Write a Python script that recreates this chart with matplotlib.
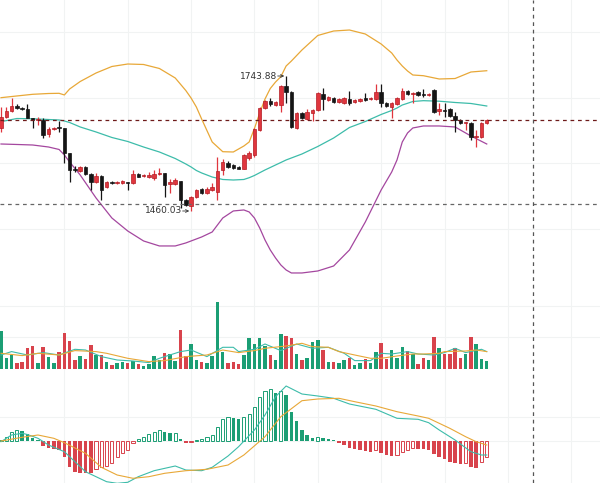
import matplotlib
matplotlib.use('Agg')
import matplotlib.pyplot as plt
import numpy as np

# candles: open, high, low, close
opens = [1634.6, 1657.7, 1670.3, 1680.8, 1676.6, 1674.5, 1655.6, 1651.4, 1651.4, 1622.0,
         1632.5, 1636.7, 1634.6, 1582.0, 1548.4, 1544.2, 1552.6, 1537.9, 1521.0, 1533.6,
         1510.5, 1521.0, 1518.9, 1518.9, 1521.0, 1518.9, 1537.9, 1533.6, 1531.5, 1529.4,
         1537.9, 1540.0, 1516.8, 1516.8, 1523.1, 1483.2, 1470.6, 1489.5, 1506.3, 1497.9,
         1504.2, 1500.0, 1546.3, 1561.0, 1556.8, 1552.6, 1548.4, 1571.5, 1577.8, 1630.4,
         1676.6, 1691.3, 1682.9, 1682.9, 1722.9, 1710.3, 1634.6, 1666.1, 1653.5, 1666.1,
         1672.4, 1706.1, 1693.4, 1697.6, 1689.2, 1687.1, 1695.5, 1689.2, 1691.3, 1697.6,
         1695.5, 1695.5, 1710.3, 1687.1, 1678.7, 1685.0, 1695.5, 1712.4, 1706.1, 1710.3,
         1706.1, 1704.0, 1714.5, 1670.3, 1672.4, 1674.5, 1659.8, 1651.4, 1645.1, 1645.1,
         1615.6, 1615.6, 1645.1]
highs = [1678.7, 1678.7, 1697.6, 1685.0, 1678.7, 1685.0, 1655.6, 1657.7, 1655.6, 1636.7,
         1636.7, 1649.3, 1634.6, 1582.0, 1554.7, 1554.7, 1554.7, 1540.0, 1540.0, 1535.7,
         1523.1, 1523.1, 1523.1, 1525.2, 1521.0, 1546.3, 1540.0, 1537.9, 1542.1, 1546.3,
         1550.5, 1540.0, 1527.3, 1529.4, 1523.1, 1485.3, 1491.6, 1506.3, 1508.4, 1510.5,
         1518.9, 1573.6, 1569.4, 1565.2, 1558.9, 1554.7, 1579.9, 1586.2, 1634.6, 1678.7,
         1693.4, 1697.6, 1691.3, 1725.0, 1743.88, 1712.4, 1668.2, 1668.2, 1674.5, 1674.5,
         1710.3, 1718.7, 1701.9, 1699.8, 1697.6, 1699.8, 1712.4, 1695.5, 1697.6, 1708.2,
         1699.8, 1727.1, 1727.1, 1689.2, 1689.2, 1699.8, 1718.7, 1714.5, 1710.3, 1712.4,
         1716.6, 1708.2, 1716.6, 1687.1, 1687.1, 1676.6, 1668.2, 1653.5, 1647.2, 1647.2,
         1630.4, 1647.2, 1653.5]
lows = [1626.2, 1655.6, 1668.2, 1674.5, 1672.4, 1655.6, 1634.6, 1640.9, 1613.5, 1615.6,
        1630.4, 1626.2, 1561.0, 1521.0, 1542.1, 1542.1, 1535.7, 1504.2, 1518.9, 1483.2,
        1508.4, 1516.8, 1516.8, 1516.8, 1504.2, 1516.8, 1531.5, 1531.5, 1529.4, 1525.2,
        1535.7, 1489.5, 1497.9, 1514.7, 1466.4, 1470.6, 1460.03, 1487.4, 1495.8, 1495.8,
        1502.1, 1483.2, 1535.7, 1550.5, 1548.4, 1548.4, 1548.4, 1567.3, 1573.6, 1628.3,
        1674.5, 1680.8, 1680.8, 1668.2, 1687.1, 1634.6, 1632.5, 1653.5, 1651.4, 1649.3,
        1670.3, 1672.4, 1691.3, 1687.1, 1687.1, 1685.0, 1682.9, 1687.1, 1689.2, 1691.3,
        1693.4, 1693.4, 1678.7, 1678.7, 1655.6, 1682.9, 1693.4, 1704.0, 1687.1, 1701.9,
        1699.8, 1701.9, 1666.1, 1661.9, 1657.7, 1657.7, 1626.2, 1643.0, 1630.4, 1609.3,
        1594.6, 1613.5, 1643.0]
closes = [1657.7, 1670.3, 1680.8, 1676.6, 1674.5, 1655.6, 1651.4, 1653.5, 1619.9, 1632.5,
          1634.6, 1634.6, 1582.0, 1546.3, 1546.3, 1552.6, 1537.9, 1521.0, 1533.6, 1504.2,
          1521.0, 1518.9, 1521.0, 1523.1, 1518.9, 1537.9, 1531.5, 1535.7, 1535.7, 1537.9,
          1540.0, 1514.7, 1521.0, 1525.2, 1483.2, 1472.7, 1489.5, 1504.2, 1497.9, 1506.3,
          1510.5, 1544.2, 1563.1, 1552.6, 1550.5, 1548.4, 1577.8, 1582.0, 1632.5, 1676.6,
          1691.3, 1685.0, 1689.2, 1722.9, 1710.3, 1636.7, 1666.1, 1655.6, 1668.2, 1672.4,
          1708.2, 1695.5, 1699.8, 1689.2, 1695.5, 1697.6, 1687.1, 1693.4, 1695.5, 1693.4,
          1697.6, 1710.3, 1687.1, 1680.8, 1687.1, 1697.6, 1712.4, 1706.1, 1708.2, 1704.0,
          1704.0, 1706.1, 1668.2, 1674.5, 1670.3, 1659.8, 1651.4, 1645.1, 1647.2, 1615.6,
          1617.8, 1645.1, 1651.4]

# bollinger bands (candle index, price)
boll_idx = [0, 3, 6, 9, 11, 12, 13, 15, 18, 21, 24, 27, 30, 33, 35, 36, 37, 38, 40, 42,
            44, 46, 47, 48, 49, 50, 51, 52, 53, 54, 55, 57, 60, 63, 66, 69, 72, 74, 75, 76,
            77, 78, 80, 83, 86, 89, 92]
boll_up = [1698.3, 1701.9, 1705.4, 1707.1, 1707.5, 1704.0, 1716.6, 1732.3, 1750.2, 1763.9,
           1769.1, 1768.1, 1759.7, 1739.7, 1713.4, 1697.6, 1678.7, 1653.5, 1605.1, 1584.7,
           1584.1, 1596.7, 1605.1, 1633.5, 1666.1, 1695.5, 1717.6, 1731.3, 1742.4, 1764.9,
           1775.4, 1798.6, 1829.1, 1838.5, 1840.6, 1832.2, 1811.2, 1792.3, 1777.5, 1764.9,
           1754.4, 1746.0, 1744.5, 1737.6, 1738.6, 1752.3, 1755.0]
boll_mid = [1647.8, 1654.5, 1653.9, 1652.4, 1651.4, 1649.3, 1646.1, 1636.7, 1626.2, 1614.6,
            1606.2, 1594.6, 1584.1, 1570.4, 1558.9, 1552.6, 1545.2, 1540.0, 1531.5, 1526.3,
            1525.2, 1526.3, 1530.0, 1534.7, 1540.5, 1546.3, 1551.5, 1556.8, 1562.0, 1567.3,
            1571.5, 1579.9, 1595.7, 1613.5, 1635.6, 1648.2, 1663.0, 1671.4, 1676.6, 1682.9,
            1686.5, 1690.3, 1692.0, 1690.9, 1688.2, 1686.1, 1680.8]
boll_dn = [1600.9, 1599.9, 1598.8, 1594.6, 1589.4, 1577.8, 1563.1, 1535.7, 1487.4, 1445.3,
           1418.0, 1397.0, 1386.5, 1386.5, 1392.8, 1397.0, 1401.2, 1405.4, 1415.9, 1445.3,
           1460.1, 1462.2, 1458.0, 1445.3, 1424.3, 1399.1, 1378.1, 1361.2, 1346.5, 1336.0,
           1329.7, 1329.7, 1333.9, 1344.4, 1378.1, 1436.9, 1504.2, 1542.1, 1567.3, 1605.1,
           1624.1, 1634.6, 1638.8, 1638.8, 1636.7, 1617.8, 1600.9]

volume = [38.7, 11, 14.3, 6.7, 7.7, 21, 23.3, 6.7, 22.7, 12, 6.7, 17.7, 36.7, 28.7, 9.3,
          13.3, 10.3, 24.3, 14.3, 14.3, 7.7, 4.3, 6, 7.7, 6, 8.3, 5.3, 3.3, 5.3, 13.3,
          9.3, 16.7, 15, 8.7, 39.3, 13.7, 25, 9.3, 7.7, 6, 13.3, 67, 17.7, 6.7, 7.3,
          5.3, 14.3, 31, 25.3, 31, 23.3, 14.3, 9.3, 35.3, 33.3, 31, 15.3, 9.3, 11.7, 27.7,
          29.3, 19.3, 7.7, 7.7, 6.7, 9.3, 11, 4.3, 6.7, 10, 6, 17, 26.7, 10.3, 19.3,
          11, 22.7, 18.3, 15, 5.3, 11.7, 9.3, 32.7, 21.7, 15, 15, 21, 11, 15, 32.7,
          25.3, 10, 8.7]
vol_ma_a_idx = [0, 2, 5, 8, 11, 14, 16, 19, 22, 25, 28, 30, 34, 36, 39, 42, 44, 45, 48, 50,
                53, 56, 59, 62, 65, 67, 70, 72, 74, 77, 79, 82, 84, 86, 88, 91, 92]
vol_ma_a = [14.3, 17.7, 14.3, 16.7, 14.3, 20, 19.3, 12.7, 9.3, 8.3, 6.7, 11, 17.7, 19.3,
            12.7, 22, 22, 17.7, 20, 25.3, 18.7, 25.3, 21, 22, 16, 8.7, 8.7, 16, 15.3, 17.7,
            15.3, 14.3, 16.7, 21, 16.7, 20, 17.7]
vol_ma_b_idx = [0, 4, 7, 11, 14, 18, 20, 24, 28, 31, 35, 39, 42, 45, 48, 50, 54, 57, 59, 62,
                64, 67, 70, 72, 75, 78, 80, 83, 84, 88, 90, 92]
vol_ma_b = [16, 13.7, 16, 14.3, 18.7, 17.7, 16, 11, 7.7, 8.7, 12.7, 14.3, 19.3, 16.7, 18.7,
            21, 23.3, 26, 22.7, 22, 17.7, 14.3, 11, 11, 13.3, 15.3, 15.3, 16, 17.7, 18.3,
            19.3, 17.7]

macd_hist = [1, 3.7, 8.7, 10.7, 10.3, 7, 2.7, 1, -5, -7.3, -8.3, -9, -16.3, -26.3, -30.7,
             -31.7, -31.8, -32.3, -28.3, -26.3, -25, -21.7, -16.3, -11.7, -9, -1.7, 1.7, 4.3,
             7, 9, 11, 9.3, 7.7, 7.7, 1.7, -1.7, -1.3, 1, 1.7, 3.7, 5.7, 14.3, 21.7, 23.7,
             22.7, 21.7, 24.3, 26.7, 34.3, 43.7, 50.3, 51.7, 48.3, 50, 46, 29.3, 20.3, 11, 6,
             2.7, 4.3, 2.7, 1.7, 1, -1.7, -4, -7.3, -8.3, -9, -9.7, -10.7, -9, -11.7, -14,
             -15, -14, -10.7, -9, -7.3, -8, -8.3, -8.7, -13, -16.3, -18.3, -20.7, -22.3, -23,
             -22.3, -26.3, -27.3, -20.7, -15.7]
dif_idx = [0, 2, 4, 5, 7, 9, 12, 14, 16, 18, 20, 22, 24, 26, 29, 33, 35, 38, 40, 43, 45, 48,
           50, 52, 54, 57, 60, 63, 66, 71, 75, 79, 81, 83, 86, 89, 91, 92]
dif = [-0.7, 6, 7.7, 6.5, 2.7, -4, -10.7, -20.7, -30.7, -35.7, -40.7, -42.3, -41.3, -35.7,
       -29.7, -25, -29, -29.7, -26.3, -15, -5.7, 11, 26, 44.3, 55, 47, 45, 42.7, 37, 31.7,
       22.7, 21.7, 18.3, 11, 1, -10.7, -14, -14]
dea_idx = [0, 4, 7, 10, 12, 16, 19, 22, 25, 28, 31, 35, 39, 43, 46, 50, 53, 57, 60, 64, 67,
           71, 75, 79, 81, 85, 88, 90, 92]
dea = [0, 3.7, 6, 2.7, -1.7, -12.3, -26.3, -34, -37.3, -35.7, -32.3, -29.7, -28.3, -24, -14,
       4.3, 24.3, 40.3, 42, 42.7, 39.3, 35, 29.3, 25, 22.7, 12.7, 4.3, -0.7, -4]

RED, BLACK = '#e0363e', '#151515'
V_GREEN, V_RED = '#1b9e74', '#d8434c'
GOLD, TEAL, PURPLE = '#e8a838', '#3dbcaa', '#a4479f'
GRID = '#f1f3f3'

W, H = 600, 483
fig = plt.figure(figsize=(6, 4.83), dpi=100)

def pane(top, bottom):
    ax = fig.add_axes([0, 1 - bottom / H, 1, (bottom - top) / H])
    ax.set_xlim(-0.19, 113.45)
    for s in ax.spines.values():
        s.set_visible(False)
    ax.tick_params(left=False, bottom=False, labelleft=False, labelbottom=False)
    for gx in range(12, 112, 12):
        ax.axvline(gx, color=GRID, lw=0.8, zorder=0)
    return ax

n = len(opens)
x = np.arange(n)
o, h, l, c = map(np.array, (opens, highs, lows, closes))
up = c >= o

# main pane
ax = pane(0, 289)
ax.set_ylim(1296.0, 1903.7)
for gy in (1836.4, 1697.6, 1561.0, 1422.2):
    ax.axhline(gy, color=GRID, lw=0.8, zorder=0)
ax.plot(boll_idx, boll_up, color=GOLD, lw=0.9, zorder=2)
ax.plot(boll_idx, boll_mid, color=TEAL, lw=0.9, zorder=2)
ax.plot(boll_idx, boll_dn, color=PURPLE, lw=0.9, zorder=2)
cols = np.where(up, RED, BLACK)
ax.vlines(x, l, h, colors=cols, lw=0.9, zorder=3)
body_lo = np.minimum(o, c)
body_h = np.maximum(np.abs(c - o), 1.6)
ax.bar(x, body_h, bottom=body_lo, width=0.66, color=cols, edgecolor=np.where(up, '#b21d25', BLACK),
       lw=0.5, zorder=4)
ax.axhline(closes[-1], color='#6e1a1a', lw=0.9, ls=(0, (3, 3)), zorder=5)
ax.axhline(1474.8, color='#666666', lw=0.9, ls=(0, (3, 3)), zorder=5)

# max / min marks
for idx, val in ((int(np.argmax(h)), h.max()), (int(np.argmin(l)), l.min())):
    ax.annotate('', xy=(idx - 0.35, val), xytext=(idx - 1.6, val),
                arrowprops=dict(arrowstyle='->', lw=0.6, color='#333333', shrinkA=0, shrinkB=0,
                                mutation_scale=5))
    ax.text(idx - 1.75, val, f'{val:.2f}', ha='right', va='center', fontsize=6.5, color='#333333')

# volume pane
axv = pane(289, 372)
axv.set_ylim(-2.7, 80.3)
for gy in (63.3, 32.3):
    axv.axhline(gy, color=GRID, lw=0.8, zorder=0)
axv.bar(x, volume, width=0.66, color=np.where(up, V_GREEN, V_RED), zorder=2)
axv.plot(vol_ma_a_idx, vol_ma_a, color=TEAL, lw=0.8, zorder=3)
axv.plot(vol_ma_b_idx, vol_ma_b, color=GOLD, lw=0.8, zorder=3)

# macd pane
axm = pane(372, 483)
axm.set_ylim(-42, 69)
for gy in (24, 0):
    axm.axhline(gy, color=GRID, lw=0.8, zorder=0)
hist = np.array(macd_hist)
prev = np.concatenate([[0], hist[:-1]])
for i, v in enumerate(hist):
    col = V_GREEN if v >= 0 else V_RED
    hollow = v >= prev[i]
    if hollow:
        axm.bar(i, v, width=0.6, facecolor='white', edgecolor=col, lw=0.7, zorder=2)
    else:
        axm.bar(i, v, width=0.66, color=col, zorder=2)
axm.plot(dif_idx, dif, color=TEAL, lw=0.8, zorder=3)
axm.plot(dea_idx, dea, color=GOLD, lw=0.8, zorder=3)

# crosshair vertical line across all panes
fig.add_artist(plt.Line2D([533 / W, 533 / W], [0, 1], transform=fig.transFigure,
                          color='#555555', lw=0.9, ls=(0, (3, 3))))

fig.savefig('out.png', dpi=100, facecolor='white')
